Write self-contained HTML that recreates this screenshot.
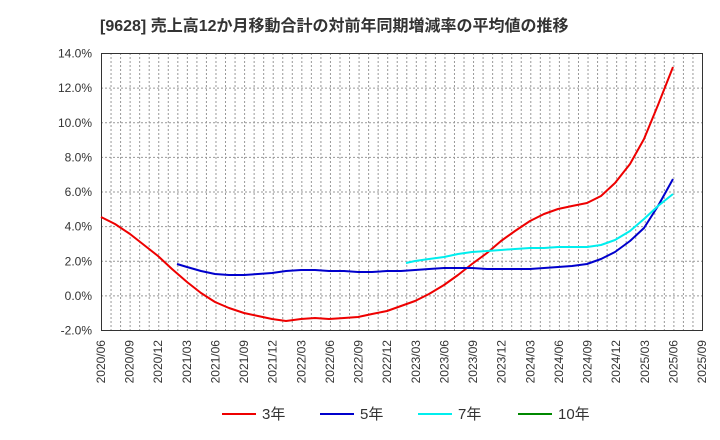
<!DOCTYPE html><html><head><meta charset="utf-8"><style>body{margin:0;background:#fff}svg{display:block;font-family:"Liberation Sans","Noto Sans CJK JP",sans-serif}</style></head><body>
<svg width="720" height="440" xmlns="http://www.w3.org/2000/svg">
<text x="100" y="31" font-size="16" font-weight="bold" fill="#333">[9628]  売上高12か月移動合計の対前年同期増減率の平均値の推移</text>
<g id="grid" stroke="#999" stroke-width="1" stroke-dasharray="2,2"></g>
<g fill="#333" font-size="12" text-anchor="end" id="yl"></g>
<g fill="#333" font-size="12" id="xl"></g>
<rect x="101.5" y="53.5" width="601" height="277" fill="none" stroke="#333"/>
<g fill="none" stroke-width="2" stroke-linejoin="round">
<polyline stroke="#e00" points="101,217 115,224 130,234 144,245 158,256 172,269 187,282 201,293 215,302 229,308 244,313 258,316 272,319 286,321 301,319 315,318 329,319 344,318 358,317 372,314 387,311 401,306 415,301 429,294 444,285 458,275 472,264 487,253 501,241 515,231 530,221 544,214 558,209 572,206 587,203 601,196 615,183 630,164 644,139 658,105 673,67"/>
<polyline stroke="#00c" points="177,264 187,267 201,271 215,274 229,275 244,275 258,274 272,273 286,271 301,270 315,270 329,271 344,271 358,272 372,272 387,271 401,271 415,270 429,269 444,268 458,268 472,268 487,269 501,269 515,269 530,269 544,268 558,267 572,266 587,264 601,259 615,252 630,241 644,228 658,206 673,179"/>
<polyline stroke="#0ee" points="406,263 415,261 429,259 444,257 458,254 472,252 487,251 501,250 515,249 530,248 544,248 558,247 572,247 587,247 601,245 615,240 630,231 644,219 658,206 673,194"/>
</g>
<g font-size="15" fill="#333">
<line x1="222" y1="414" x2="256" y2="414" stroke="#e00" stroke-width="2"/><text x="262" y="419">3年</text>
<line x1="320" y1="414" x2="354" y2="414" stroke="#00c" stroke-width="2"/><text x="360" y="419">5年</text>
<line x1="418" y1="414" x2="452" y2="414" stroke="#0ee" stroke-width="2"/><text x="458" y="419">7年</text>
<line x1="518" y1="414" x2="552" y2="414" stroke="#080" stroke-width="2"/><text x="558" y="419">10年</text>
</g>
<script>
var ns="http://www.w3.org/2000/svg",g=document.getElementById('grid'),yl=document.getElementById('yl'),xl=document.getElementById('xl');
function el(t,a,p,tx){var e=document.createElementNS(ns,t);for(var k in a)e.setAttribute(k,a[k]);if(tx)e.textContent=tx;p.appendChild(e);}
for(var i=0;i<=8;i++){var y=53.5+i*34.625;if(i>0&&i<8)el('line',{x1:101,x2:702,y1:y,y2:y},g);el('text',{x:92,y:y+4},yl,(14-2*i).toFixed(1)+'%');}
for(var m=1;m<63;m++){var x=101.5+m*601/63;el('line',{x1:x,x2:x,y1:53,y2:330},g);}
for(var k=0;k<22;k++){var x=101+k*28.62,mm=6+3*k,yr=2020+Math.floor((mm-1)/12),mo=((mm-1)%12)+1;
el('text',{transform:'translate('+(x+4)+',340) rotate(-90)','text-anchor':'end'},xl,yr+'/'+(mo<10?'0':'')+mo);}
</script>
</svg></body></html>
